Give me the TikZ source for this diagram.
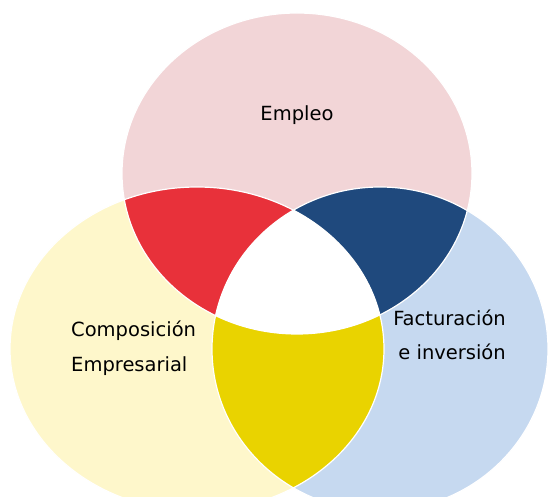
\documentclass[tikz,border=0pt]{standalone}
\usepackage{fontspec}
\setmainfont{DejaVu Sans}
\definecolor{pinkc}{HTML}{F2D5D7}
\definecolor{yelc}{HTML}{FEF7CB}
\definecolor{bluec}{HTML}{C6D9F0}
\definecolor{redc}{HTML}{E8313A}
\definecolor{navyc}{HTML}{1F497D}
\definecolor{goldc}{HTML}{E9D300}
\begin{document}
\begin{tikzpicture}[x=1pt,y=-1pt,
  lbl/.style={font=\fontsize{19.5}{19.5}\selectfont, inner sep=0pt, text=black},
  gap/.style={draw=white, line width=1.2pt}]
\useasboundingbox (0,0) rectangle (550,497);
\clip (0,0) rectangle (550,497);
\def\pinkE{(297,173.5) ellipse [x radius=175, y radius=160.5]}
\def\yelE{(197,349) ellipse [x radius=187, y radius=162]}
\def\bluE{(380,349) ellipse [x radius=168, y radius=162]}
% base circles
\fill[pinkc] \pinkE;
\fill[yelc] \yelE;
\fill[bluec] \bluE;
% pairwise overlaps
\begin{scope}
  \clip \pinkE; \fill[redc] \yelE;
\end{scope}
\begin{scope}
  \clip \pinkE; \fill[navyc] \bluE;
\end{scope}
\begin{scope}
  \clip \yelE; \fill[goldc] \bluE;
\end{scope}
% triple overlap
\begin{scope}
  \clip \pinkE; \clip \yelE; \fill[white] \bluE;
\end{scope}
% thin white separations
\draw[gap] \pinkE;
\draw[gap] \yelE;
\draw[gap] \bluE;
% labels
\node[lbl, anchor=base] (empleo) at (297,121) {Empleo};
\node[lbl, anchor=base west] (comp1) at (71,337) {Composición};
\node[lbl, anchor=base west] (comp2) at (71,372) {Empresarial};
\node[lbl, anchor=base east] (fact1) at (506,326) {Facturación};
\node[lbl, anchor=base east] (fact2) at (506,360) {e inversión};
\end{tikzpicture}
\end{document}
